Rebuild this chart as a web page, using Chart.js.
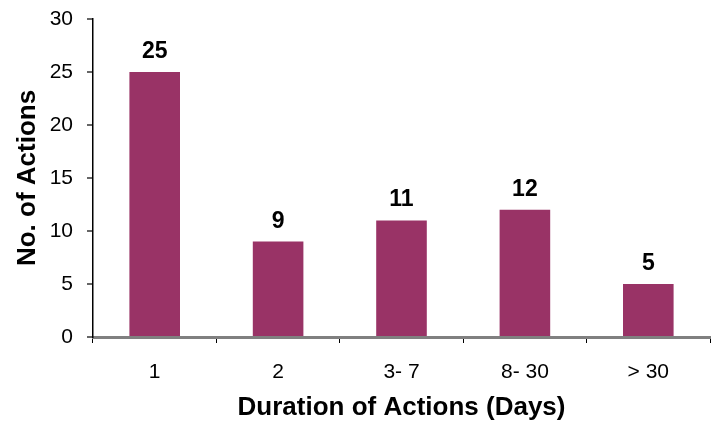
<!DOCTYPE html>
<html>
<head>
<meta charset="utf-8">
<script src="https://cdn.jsdelivr.net/npm/chart.js@4"></script>
<style>
html,body{margin:0;padding:0;background:#fff;}
#wrap{width:715px;height:424px;position:relative;}
</style>
</head>
<body>
<div id="wrap"><canvas id="c" width="715" height="424"></canvas></div>
<script>
const categories = ["1", "2", "3- 7", "8- 30", "> 30"];
const actionCounts = [25, 9, 11, 12, 5];
const yTicks = [0, 5, 10, 15, 20, 25, 30];

const valueLabels = {
  id: 'valueLabels',
  afterDatasetsDraw(chart) {
    const ctx = chart.ctx;
    const meta = chart.getDatasetMeta(0);
    ctx.save();
    ctx.font = 'bold 23px "Liberation Sans", Arial, sans-serif';
    ctx.fillStyle = '#000';
    ctx.textAlign = 'center';
    ctx.textBaseline = 'alphabetic';
    meta.data.forEach((bar, i) => {
      ctx.fillText(String(chart.data.datasets[0].data[i]), bar.x, bar.y - 14);
    });
    ctx.restore();
  }
};

new Chart(document.getElementById('c'), {
  type: 'bar',
  data: {
    labels: categories,
    datasets: [{
      data: actionCounts,
      backgroundColor: '#993366',
      borderWidth: 0,
      categoryPercentage: 1,
      barPercentage: 0.41
    }]
  },
  options: {
    responsive: false,
    animation: false,
    devicePixelRatio: 1,
    layout: { padding: { top: 19, right: 5, left: 0, bottom: 0 } },
    plugins: { legend: { display: false }, tooltip: { enabled: false } },
    scales: {
      x: {
        offset: true,
        grid: { display: true, offset: true, drawOnChartArea: false, drawTicks: true, tickLength: 6, color: '#000', lineWidth: 1 },
        border: { display: true, color: '#808080', width: 3 },
        ticks: { color: '#000', font: { family: '"Liberation Sans", Arial, sans-serif', size: 21 }, padding: 17, maxRotation: 0 },
        title: { display: true, text: 'Duration of Actions (Days)', color: '#000', font: { family: '"Liberation Sans", Arial, sans-serif', size: 26, weight: 'bold' }, padding: { top: 0, bottom: 1 } },
        afterFit(s) { s.height = 87; }
      },
      y: {
        min: 0, max: 30,
        afterBuildTicks(s) { s.ticks = yTicks.map(v => ({ value: v })); },
        grid: { display: true, drawOnChartArea: false, drawTicks: true, tickLength: 6, color: '#666', lineWidth: 2 },
        border: { display: true, color: '#000', width: 1.5 },
        ticks: { color: '#000', font: { family: '"Liberation Sans", Arial, sans-serif', size: 21 }, padding: 14 },
        title: { display: true, text: 'No. of Actions', color: '#000', font: { family: '"Liberation Sans", Arial, sans-serif', size: 26, weight: 'bold' }, padding: { top: 12, bottom: 0 } },
        afterFit(s) { s.width = 93; s.paddingTop = 0; s.paddingBottom = 0; }
      }
    }
  },
  plugins: [valueLabels]
});
</script>
</body>
</html>
